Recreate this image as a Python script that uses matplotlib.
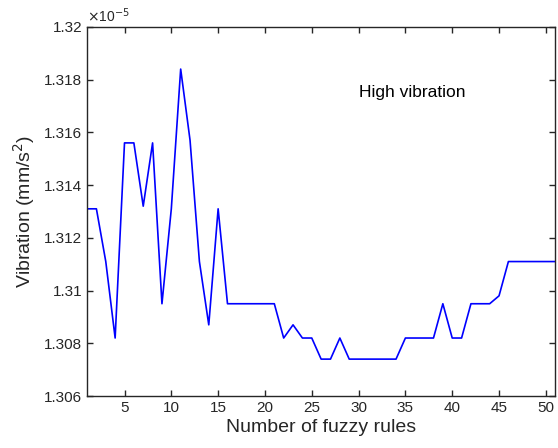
import matplotlib.pyplot as plt
from matplotlib.ticker import FuncFormatter

plt.rcParams['font.family'] = ['Liberation Sans', 'DejaVu Sans']

# number of fuzzy rules vs vibration (mm/s^2)
rules = list(range(1, 52))
vibration = [
    1.3131, 1.3131, 1.3111, 1.3082, 1.3156, 1.3156, 1.3132, 1.3156, 1.3095, 1.3131,
    1.3184, 1.3157, 1.3111, 1.3087, 1.3131, 1.3095, 1.3095, 1.3095, 1.3095, 1.3095,
    1.3095, 1.3082, 1.3087, 1.3082, 1.3082, 1.3074, 1.3074, 1.3082, 1.3074, 1.3074,
    1.3074, 1.3074, 1.3074, 1.3074, 1.3082, 1.3082, 1.3082, 1.3082, 1.3095, 1.3082,
    1.3082, 1.3095, 1.3095, 1.3095, 1.3098, 1.3111, 1.3111, 1.3111, 1.3111, 1.3111,
    1.3111,
]
vibration = [v * 1e-5 for v in vibration]

yticks = [1.306e-5, 1.308e-5, 1.310e-5, 1.312e-5, 1.314e-5, 1.316e-5, 1.318e-5, 1.320e-5]
xticks = [5, 10, 15, 20, 25, 30, 35, 40, 45, 50]

fig = plt.figure(figsize=(5.58, 4.48), dpi=100)
ax = fig.add_axes([0.156, 0.116, 0.839, 0.824])

ax.plot(rules, vibration, color='blue', linewidth=1.2)

ax.set_xlim(1, 51)
ax.set_ylim(1.306e-5, 1.32e-5)
ax.set_xticks(xticks)
ax.set_yticks(yticks)
ax.yaxis.set_major_formatter(FuncFormatter(lambda v, p: f'{v * 1e5:g}'))

ax.tick_params(direction='in', top=True, right=True, labelsize=11, length=4,
               width=1, colors='#262626')
for s in ax.spines.values():
    s.set_linewidth(1)
    s.set_color('#262626')

ax.set_xlabel('Number of fuzzy rules', fontsize=14, color='#262626', labelpad=3)
ax.set_ylabel('Vibration (mm/s$^2$)', fontsize=14, color='#262626', labelpad=5)

ax.text(0.0, 1.005, r'$\times$10$^{-5}$', transform=ax.transAxes, fontsize=10,
        color='#262626', ha='left', va='bottom')
ax.text(0.581, 0.821, 'High vibration', transform=ax.transAxes, fontsize=12.5,
        ha='left', va='center')

fig.savefig('out.png', dpi=100)
